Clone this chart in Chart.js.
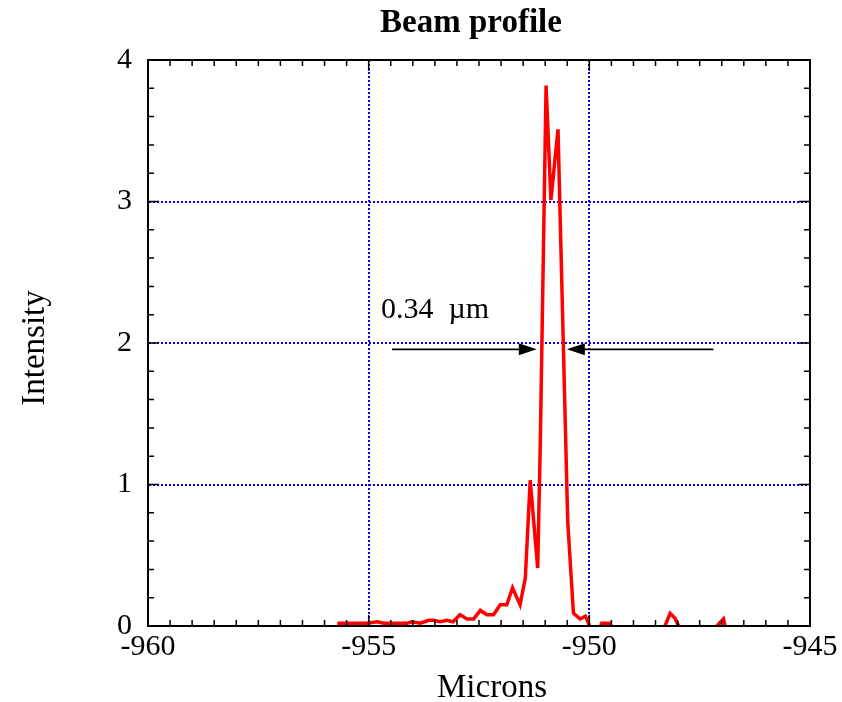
<!DOCTYPE html>
<html>
<head>
<meta charset="utf-8">
<script src="https://cdn.jsdelivr.net/npm/chart.js@4.4.0/dist/chart.umd.min.js"></script>
<style>
  html, body { margin: 0; padding: 0; background: #fff; }
  #wrap { width: 842px; height: 702px; }
</style>
</head>
<body>
<div id="wrap"><canvas id="c"></canvas></div>
<script>
// ---- data ----
const xs = [-955.71, -955.04, -954.80, -954.66, -954.13, -954.02, -953.83, -953.64, -953.53, -953.38,
            -953.23, -953.09, -952.93, -952.77, -952.62, -952.47, -952.32, -952.17, -952.02, -951.87,
            -951.74, -951.57, -951.45, -951.34, -951.17, -951.11, -950.98, -950.87, -950.71, -950.49,
            -950.36, -950.21, -950.09, -950.02, -949.87, -949.72, -949.53, -949.40, -949.00, -948.70,
            -948.35, -948.17, -948.06, -947.90, -947.50, -947.20, -946.96, -946.85];
const ys = [0.02, 0.02, 0.03, 0.02, 0.02, 0.03, 0.02, 0.04, 0.04, 0.03,
            0.04, 0.03, 0.08, 0.05, 0.05, 0.11, 0.08, 0.08, 0.15, 0.15,
            0.27, 0.15, 0.34, 1.03, 0.41, 1.31, 3.82, 3.01, 3.51, 0.74,
            0.09, 0.05, 0.07, 0.02, -0.10, 0.02, 0.02, -0.10, -0.06, -0.08,
            -0.05, 0.09, 0.055, -0.05, -0.06, -0.03, 0.05, -0.10];
const xTickValues = [-960, -955, -950, -945];
const yTickValues = [0, 1, 2, 3, 4];
const titleText = 'Beam profile';
const xTitle = 'Microns';
const yTitle = 'Intensity';
const widthLabel = '0.34  \u00B5m';
// annotation (data coordinates): left arrow, right arrow, label
const leftArrow = { from: -954.47, to: -951.19, y: 1.955 };
const rightArrow = { from: -947.19, to: -950.51, y: 1.955 };
const labelPos = { x: -954.72, y: 2.18 };

const points = xs.map((x, i) => ({ x: x, y: ys[i] }));
const SERIF = "'Liberation Serif', 'Times New Roman', serif";

const decor = {
  id: 'decor',
  afterDatasetsDraw(chart) {
    const { ctx, chartArea: a, scales } = chart;
    const sx = scales.x, sy = scales.y;
    ctx.save();
    // inward ticks on all four sides
    ctx.strokeStyle = '#000';
    ctx.lineWidth = 1.5;
    ctx.beginPath();
    for (let k = 0; k <= 30; k++) {
      const v = -960 + k * 0.5;
      const px = sx.getPixelForValue(v);
      const len = (k % 10 === 0) ? 11 : 6;
      ctx.moveTo(px, a.bottom); ctx.lineTo(px, a.bottom - len);
      ctx.moveTo(px, a.top); ctx.lineTo(px, a.top + len);
    }
    for (let k = 0; k <= 20; k++) {
      const v = k * 0.2;
      const py = sy.getPixelForValue(v);
      const len = (k % 5 === 0) ? 11 : 6;
      ctx.moveTo(a.left, py); ctx.lineTo(a.left + len, py);
      ctx.moveTo(a.right, py); ctx.lineTo(a.right - len, py);
    }
    ctx.stroke();
    // frame
    ctx.lineWidth = 2;
    ctx.strokeRect(a.left, a.top, a.right - a.left, a.bottom - a.top);

    // arrows
    function arrow(ar) {
      const x1 = sx.getPixelForValue(ar.from), x2 = sx.getPixelForValue(ar.to);
      const y = sy.getPixelForValue(ar.y);
      const dir = x2 > x1 ? 1 : -1;
      ctx.lineWidth = 1.6;
      ctx.beginPath();
      ctx.moveTo(x1, y); ctx.lineTo(x2 - dir * 14, y);
      ctx.stroke();
      ctx.beginPath();
      ctx.moveTo(x2, y);
      ctx.lineTo(x2 - dir * 18, y - 6);
      ctx.lineTo(x2 - dir * 18, y + 6);
      ctx.closePath();
      ctx.fill();
    }
    ctx.fillStyle = '#000';
    arrow(leftArrow);
    arrow(rightArrow);

    // texts
    ctx.fillStyle = '#000';
    ctx.textBaseline = 'alphabetic';
    ctx.font = '30px ' + SERIF;
    ctx.textAlign = 'left';
    ctx.fillText(widthLabel, sx.getPixelForValue(labelPos.x), sy.getPixelForValue(labelPos.y));

    ctx.textAlign = 'center';
    ctx.font = 'bold 33px ' + SERIF;
    ctx.fillText(titleText, 471, 31.5);
    ctx.font = '33px ' + SERIF;
    ctx.fillText(xTitle, 492, 697);
    ctx.save();
    ctx.translate(44, 348);
    ctx.rotate(-Math.PI / 2);
    ctx.fillText(yTitle, 0, 0);
    ctx.restore();
    ctx.restore();
  }
};

new Chart(document.getElementById('c'), {
  type: 'scatter',
  data: {
    datasets: [{
      data: points,
      showLine: true,
      borderColor: '#ff0000',
      backgroundColor: '#ff0000',
      borderWidth: 3.5,
      pointRadius: 0,
      tension: 0,
      clip: 0
    }]
  },
  options: {
    responsive: true,
    maintainAspectRatio: false,
    animation: false,
    layout: { padding: { top: 60, right: 32, left: 0, bottom: 0 } },
    plugins: { legend: { display: false }, title: { display: false }, tooltip: { enabled: false } },
    scales: {
      x: {
        type: 'linear',
        min: -960, max: -945,
        afterBuildTicks(s) { s.ticks = xTickValues.map(v => ({ value: v })); },
        afterFit(s) { s.height = 76; },
        ticks: {
          color: '#000', padding: 3, maxRotation: 0, autoSkip: false,
          font: { family: SERIF, size: 30 },
          callback: v => String(v)
        },
        grid: { color: '#0000ee', lineWidth: 2, drawTicks: false },
        border: { display: true, color: '#000', width: 2, dash: [2, 2] }
      },
      y: {
        type: 'linear',
        min: 0, max: 4,
        afterBuildTicks(s) { s.ticks = yTickValues.map(v => ({ value: v })); },
        afterFit(s) { s.width = 148; },
        ticks: {
          color: '#000', padding: 16, autoSkip: false,
          font: { family: SERIF, size: 30 },
          callback: v => String(v)
        },
        grid: { color: '#0000ee', lineWidth: 2, drawTicks: false },
        border: { display: true, color: '#000', width: 2, dash: [2, 2] }
      }
    }
  },
  plugins: [decor]
});
</script>
</body>
</html>
